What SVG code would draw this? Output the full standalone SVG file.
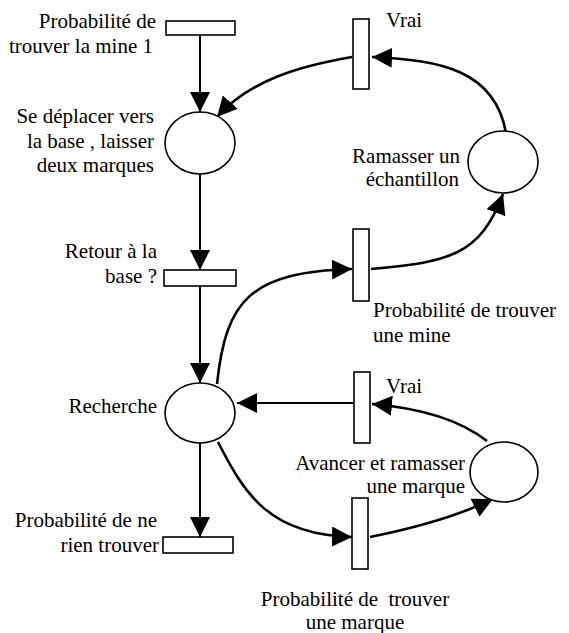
<svg xmlns="http://www.w3.org/2000/svg" width="569" height="633" viewBox="0 0 569 633">
<defs>
<style>
text{font-size:21px;fill:#000}
.e{text-anchor:end}.m{text-anchor:middle}
.place{fill:#fff;stroke:#000;stroke-width:1.6}
.trans{fill:#fff;stroke:#000;stroke-width:1.6}
.arc{fill:none;stroke:#000;stroke-width:2}
.curve{fill:none;stroke:#000;stroke-width:2.6}
</style>
<marker id="ah" viewBox="0 0 20 20" refX="20" refY="10" markerWidth="20" markerHeight="20" markerUnits="userSpaceOnUse" orient="auto">
<path d="M0,0 L20,10 L0,20 Z" fill="#000"/>
</marker>
</defs>
<rect width="569" height="633" fill="#fff"/>
<g id="connectors">
<line class="arc" x1="200" y1="36" x2="200" y2="112" marker-end="url(#ah)"/>
<line class="arc" x1="200" y1="174" x2="200" y2="270" marker-end="url(#ah)"/>
<line class="arc" x1="200" y1="286" x2="200" y2="383" marker-end="url(#ah)"/>
<line class="arc" x1="200" y1="443" x2="200" y2="537" marker-end="url(#ah)"/>
<line class="arc" x1="354" y1="403" x2="237" y2="403" marker-end="url(#ah)"/>
<path class="curve" d="M217,384 C226,300 250,272 352,269" marker-end="url(#ah)"/>
<path class="curve" d="M371,269 C450,262 480,255 503,194" marker-end="url(#ah)"/>
<path class="curve" d="M506,133 C495,70 440,60 372,57" marker-end="url(#ah)"/>
<path class="curve" d="M352,57 C300,66 250,80 217,117" marker-end="url(#ah)"/>
<path class="curve" d="M487,441 C460,420 420,408 372,404" marker-end="url(#ah)"/>
<path class="curve" d="M218,442 C245,495 270,535 352,537" marker-end="url(#ah)"/>
<path class="curve" d="M370,537 C420,527 460,515 493,499" marker-end="url(#ah)"/>
</g>
<g id="t_mine1">
<rect class="trans" x="166" y="21" width="69" height="14"/>
<text font-family="Liberation Serif" class="e" x="156" y="28">Probabilité de</text>
<text font-family="Liberation Serif" class="e" x="153" y="53">trouver la mine 1</text>
</g>
<g id="p_deplacer">
<ellipse class="place" cx="200" cy="143" rx="35" ry="31"/>
<text font-family="Liberation Serif" class="e" x="154" y="123">Se déplacer vers</text>
<text font-family="Liberation Serif" class="e" x="154" y="148">la base , laisser</text>
<text font-family="Liberation Serif" class="e" x="154" y="172">deux marques</text>
</g>
<g id="t_retour">
<rect class="trans" x="164" y="270" width="72" height="16"/>
<text font-family="Liberation Serif" class="e" x="157" y="258">Retour à la</text>
<text font-family="Liberation Serif" class="e" x="157" y="283">base ?</text>
</g>
<g id="p_recherche">
<ellipse class="place" cx="200" cy="413" rx="35" ry="30"/>
<text font-family="Liberation Serif" class="e" x="157" y="413">Recherche</text>
</g>
<g id="t_rien">
<rect class="trans" x="163" y="537" width="70" height="16"/>
<text font-family="Liberation Serif" class="e" x="157" y="527">Probabilité de ne</text>
<text font-family="Liberation Serif" class="e" x="159" y="552">rien trouver</text>
</g>
<g id="t_vrai1">
<rect class="trans" x="353" y="19" width="16" height="70"/>
<text font-family="Liberation Serif" x="386" y="27">Vrai</text>
</g>
<g id="p_ramasser">
<ellipse class="place" cx="503" cy="162" rx="35" ry="31"/>
<text font-family="Liberation Serif" class="e" x="460" y="163">Ramasser un</text>
<text font-family="Liberation Serif" class="e" x="459" y="186">échantillon</text>
</g>
<g id="t_mine">
<rect class="trans" x="353" y="229" width="16" height="72"/>
<text font-family="Liberation Serif" x="373" y="317">Probabilité de trouver</text>
<text font-family="Liberation Serif" x="373" y="342">une mine</text>
</g>
<g id="t_vrai2">
<rect class="trans" x="354" y="372" width="16" height="71"/>
<text font-family="Liberation Serif" x="386" y="393">Vrai</text>
</g>
<g id="p_avancer">
<ellipse class="place" cx="504" cy="472" rx="34" ry="30"/>
<text font-family="Liberation Serif" class="e" x="465" y="470">Avancer et ramasser</text>
<text font-family="Liberation Serif" class="e" x="465" y="493">une marque</text>
</g>
<g id="t_marque">
<rect class="trans" x="352" y="498" width="16" height="71"/>
<text font-family="Liberation Serif" class="m" x="355" y="606" xml:space="preserve">Probabilité de  trouver</text>
<text font-family="Liberation Serif" class="m" x="355" y="629">une marque</text>
</g>
</svg>
